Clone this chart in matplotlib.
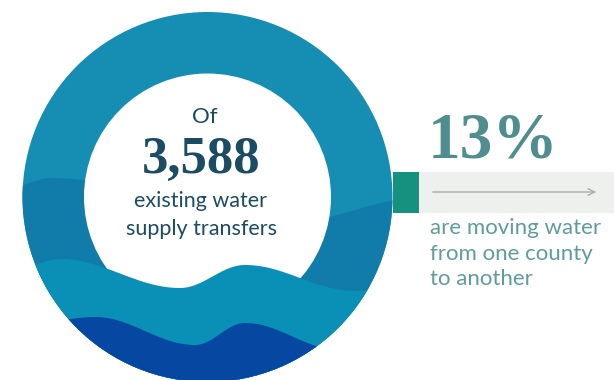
import numpy as np
import matplotlib.pyplot as plt
from matplotlib.patches import Circle, Rectangle, Polygon

# figures shown on the graphic
total_transfers = 3588
intercounty_pct = 13
center_lines = ["existing water", "supply transfers"]
side_lines = ["are moving water", "from one county", "to another"]

# crests / troughs of the water bands, in pixel space
wave_mid = [(15, 186), (50, 178), (290, 222), (420, 198)]
wave_low = [(20, 268), (60, 259), (180, 288), (245, 265), (355, 291), (420, 284)]
wave_deep = [(40, 322), (95, 317), (195, 345), (245, 323), (340, 350), (420, 352)]

c_top = "#168eb3"
c_mid = "#117ca9"
c_low = "#0a90b7"
c_deep = "#0647a2"
c_dark_txt = "#1c4b64"
c_teal = "#4f8d8e"
c_side_txt = "#5f9c9d"

cx, cy, r_out, r_in = 207.5, 197, 185, 123.5


def wave(pts, xs):
    px, py = np.array(pts, dtype=float).T
    i = np.clip(np.searchsorted(px, xs) - 1, 0, len(px) - 2)
    t = np.clip((xs - px[i]) / (px[i + 1] - px[i]), 0, 1)
    return py[i] + (py[i + 1] - py[i]) * (1 - np.cos(np.pi * t)) / 2


def band(ax, pts, color, clip):
    xs = np.linspace(0, 420, 400)
    ys = wave(pts, xs)
    verts = np.vstack([np.column_stack([xs, ys]), [[420, 420], [0, 420]]])
    p = Polygon(verts, closed=True, fc=color, ec="none")
    ax.add_patch(p)
    p.set_clip_path(clip)


fig = plt.figure(figsize=(6.14, 3.8), dpi=100)
ax = fig.add_axes([0, 0, 1, 1])
ax.set_xlim(0, 614)
ax.set_ylim(380, 0)
ax.axis("off")

ring = Circle((cx, cy), r_out, fc=c_top, ec="none")
ax.add_patch(ring)
band(ax, wave_mid, c_mid, ring)
ax.add_patch(Circle((cx, cy), r_in, fc="white", ec="none"))
band(ax, wave_low, c_low, ring)
band(ax, wave_deep, c_deep, ring)

# centre label
ax.text(205, 123, "Of", ha="center", va="baseline", fontsize=16,
        family="Lato", color=c_dark_txt)
ax.text(201, 173, f"{total_transfers:,}", ha="center", va="baseline",
        fontsize=38, family="Liberation Serif", weight="bold", color=c_dark_txt)
for k, line in enumerate(center_lines):
    ax.text(201, 207 + 28 * k, line, ha="center", va="baseline",
            fontsize=15.5, family="Lato", color=c_dark_txt)

# side callout
ax.add_patch(Rectangle((393, 172), 26, 41, fc="#17917f", ec="none"))
ax.add_patch(Rectangle((419, 172), 195, 41, fc="#eef0ed", ec="none"))
ax.annotate("", xy=(599, 192), xytext=(430, 192),
            arrowprops=dict(arrowstyle="->", color="#9fb0ad", lw=1,
                            mutation_scale=12))
ax.text(428, 158, f"{intercounty_pct}%", ha="left", va="baseline",
        fontsize=47, family="Liberation Serif", weight="bold", color=c_teal)
for k, line in enumerate(side_lines):
    ax.text(430, 234 + 25.5 * k, line, ha="left", va="baseline",
            fontsize=16, family="Lato", color=c_side_txt)

fig.savefig("out.png", dpi=100)
